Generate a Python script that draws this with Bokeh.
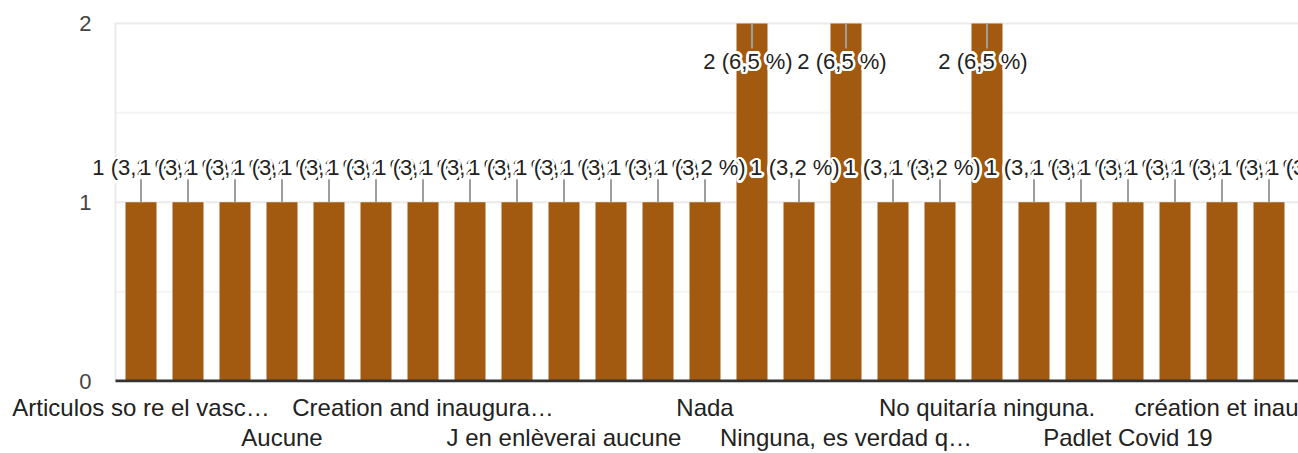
import math
from bokeh.plotting import figure
from bokeh.models import ColumnDataSource, FixedTicker, LinearAxis, Range1d
from bokeh.core.properties import value
from bokeh.embed import file_html
from bokeh.resources import INLINE

# ---------------- data ----------------
categories = [
    "Articulos so re el vasc…", "Aucun", "Aucun article", "Aucune", "Aucune.",
    "Creación del Padlet", "Creation and inaugura…", "El Padlet", "Ils sont tous utiles",
    "J en enlèverai aucune", "Je garderais tout", "La dernière", "Nada", "Ninguna",
    "Ninguna de ellas", "Ninguna, es verdad q…", "No eliminaría nada", "No quitaría nada",
    "No quitaría ninguna.", "Non", "Nothing", "Padlet Covid 19", "Rien", "Todas son útiles",
    "création et inau", "ninguna", "rien", "toutes",
]
counts = [1, 1, 1, 1, 1, 1, 1, 1, 1, 1, 1, 1, 1, 2, 1, 2, 1, 1, 2, 1, 1, 1, 1, 1, 1, 1, 1, 1]
total_responses = 31
y_ticks = [0, 1, 2]
y_minor = [0.5, 1.5]
label_every = 3  # every third category carries a tick label, alternating two rows

# ---------------- styling / layout ----------------
FONT = "Liberation Sans"
BAR = "#a15a0f"
W, H = 1298, 453
FRAME_LEFT = 92        # frame starts left of the grid so the first data label is not clipped
GRID_LEFT = 115        # where the grid / plot area visibly begins
FRAME_TOP, FRAME_BOTTOM = 21, 383
PX_PER_CAT = 47.0
FIRST_CENTER = 140.5
PX_PER_UNIT = 179.25

xs = list(range(len(categories)))
x_start = -(FIRST_CENTER - FRAME_LEFT) / PX_PER_CAT
x_end = x_start + (W - FRAME_LEFT) / PX_PER_CAT
x_grid = x_start + (GRID_LEFT - FRAME_LEFT) / PX_PER_CAT

y_top_val = max(y_ticks)
ymax_r = y_top_val + 2 / PX_PER_UNIT
frame_h = FRAME_BOTTOM - FRAME_TOP
ymin_r = ymax_r - frame_h / PX_PER_UNIT

p = figure(width=W, height=H, output_backend="svg", toolbar_location=None,
           x_range=Range1d(x_start, x_end), y_range=Range1d(ymin_r, ymax_r),
           min_border_left=FRAME_LEFT, min_border_top=FRAME_TOP,
           min_border_bottom=H - FRAME_BOTTOM, min_border_right=0,
           background_fill_color="white", border_fill_color="white")
p.outline_line_color = None
p.xgrid.grid_line_color = None
p.ygrid.grid_line_color = None

# y axis
p.yaxis.ticker = FixedTicker(ticks=y_ticks, minor_ticks=[])
p.yaxis.axis_line_color = None
p.yaxis.major_tick_line_color = None
p.yaxis.major_tick_out = 0
p.yaxis.major_tick_in = 0
p.yaxis.minor_tick_line_color = None
p.yaxis.major_label_standoff = 1
p.yaxis.major_label_text_font = FONT
p.yaxis.major_label_text_font_size = "22px"
p.yaxis.major_label_text_color = "#444444"

# x axes (two staggered rows)
row1 = [i for i in xs if i % label_every == 0 and (i // label_every) % 2 == 0]
row2 = [i for i in xs if i % label_every == 0 and (i // label_every) % 2 == 1]

def style_x(ax, ticks, standoff):
    ax.ticker = FixedTicker(ticks=ticks, minor_ticks=[])
    ax.major_label_overrides = {i: categories[i] for i in ticks}
    ax.axis_line_color = None
    ax.major_tick_line_color = None
    ax.major_tick_out = 0
    ax.major_tick_in = 0
    ax.minor_tick_line_color = None
    ax.major_label_standoff = standoff
    ax.major_label_text_font = FONT
    ax.major_label_text_font_size = "24px"
    ax.major_label_text_color = "#222222"

style_x(p.xaxis[0], row1, 11)
ax2 = LinearAxis()
style_x(ax2, row2, 0)
p.add_layout(ax2, "below")

# grid lines (start at the visible plot edge)
p.segment(x0=[x_grid] * len(y_minor), y0=y_minor, x1=[x_end] * len(y_minor), y1=y_minor,
          line_color="#f4f4f4", line_width=2)
gy = [t for t in y_ticks if t != 0]
p.segment(x0=[x_grid] * len(gy), y0=gy, x1=[x_end] * len(gy), y1=gy,
          line_color="#ebebeb", line_width=2)
p.segment(x0=[x_grid], y0=[0], x1=[x_grid], y1=[y_top_val + 1 / PX_PER_UNIT],
          line_color="#ebebeb", line_width=2)

# bars
src = ColumnDataSource(dict(x=xs, top=counts))
p.vbar(x="x", top="top", width=31 / PX_PER_CAT, source=src, fill_color=BAR, line_color=None)

# baseline
p.segment(x0=[x_grid], y0=[0], x1=[x_end], y1=[0], line_color="#333333", line_width=3)

# leader lines and labels
lead_px = 23
above_px = 34.5
below_px = 38
LABEL_DX = -4
labels, lx, ly, l0, l1 = [], [], [], [], []
for i, v in zip(xs, counts):
    pct = v / total_responses * 100
    labels.append(f"{v} ({pct:.1f} %)".replace(".", ","))
    if v + (above_px + 12) / PX_PER_UNIT <= y_top_val:
        ly.append(v + above_px / PX_PER_UNIT)
        l1.append(v + lead_px / PX_PER_UNIT)
    else:
        ly.append(v - below_px / PX_PER_UNIT)
        l1.append(v - (lead_px + 2) / PX_PER_UNIT)
    l0.append(v)
    lx.append(i)

p.segment(x0=lx, y0=l0, x1=lx, y1=l1, line_color="#9e9e9e", line_width=2)

angles = [k * 2 * math.pi / 16 for k in range(16)]
ox = [LABEL_DX + 2.6 * math.cos(a) for a in angles]
oy = [2.6 * math.sin(a) for a in angles]
for i in range(len(labels)):
    n = len(angles)
    p.text(x=[lx[i]] * n, y=[ly[i]] * n, text=[labels[i]] * n, x_offset=ox, y_offset=oy,
           text_color="white", text_font=value(FONT), text_font_size="22px",
           text_align="center", text_baseline="middle")
    p.text(x=[lx[i]], y=[ly[i]], text=[labels[i]], x_offset=LABEL_DX,
           text_color="#222222", text_font=value(FONT), text_font_size="22px",
           text_align="center", text_baseline="middle")

open("out.html", "w").write(file_html(p, INLINE))
